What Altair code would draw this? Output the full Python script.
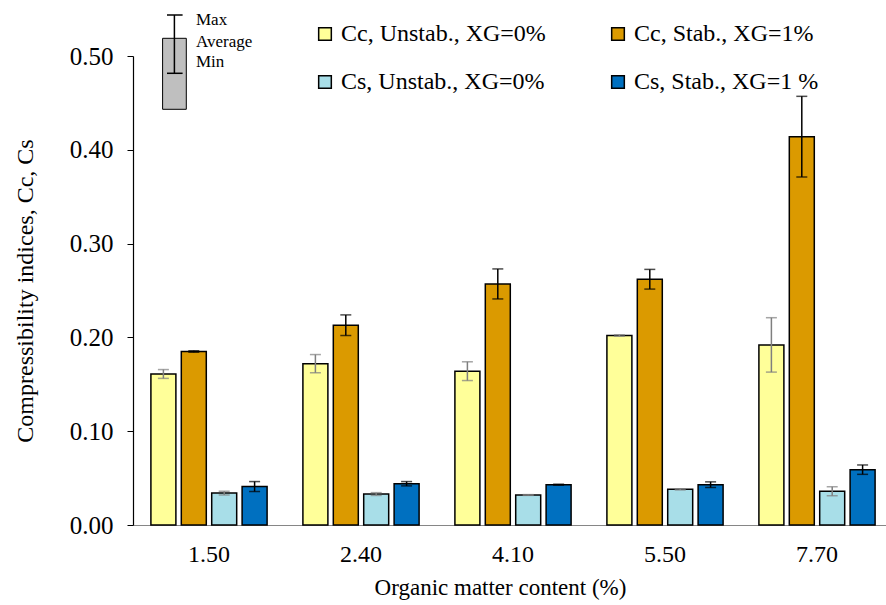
import altair as alt
import pandas as pd

# Organic matter content groups
organic = ["1.50", "2.40", "4.10", "5.50", "7.70"]

series = [
    "Cc, Unstab., XG=0%",
    "Cc, Stab., XG=1%",
    "Cs, Unstab., XG=0%",
    "Cs, Stab., XG=1 %",
]
colors = ["#FFFF99", "#DB9A00", "#A8DEE8", "#0070C0"]

# Legend fills column by column: Cc entries on the first row, Cs on the second
legend_order = [series[0], series[2], series[1], series[3]]
legend_colors = [colors[0], colors[2], colors[1], colors[3]]

# Average values and half-ranges (max - average) for each series
cc_unstab = [0.161, 0.172, 0.164, 0.202, 0.192]
cc_unstab_err = [0.0047, 0.0097, 0.0100, 0.0008, 0.0290]
cc_stab = [0.185, 0.213, 0.257, 0.262, 0.414]
cc_stab_err = [0.0008, 0.0110, 0.0160, 0.0105, 0.0430]
cs_unstab = [0.034, 0.033, 0.032, 0.038, 0.036]
cs_unstab_err = [0.0020, 0.0015, 0.0004, 0.0006, 0.0048]
cs_stab = [0.041, 0.044, 0.043, 0.043, 0.059]
cs_stab_err = [0.0053, 0.0023, 0.0005, 0.0030, 0.0050]

means = [cc_unstab, cc_stab, cs_unstab, cs_stab]
errs = [cc_unstab_err, cc_stab_err, cs_unstab_err, cs_stab_err]

rows = []
for s, m_list, e_list in zip(series, means, errs):
    for om, m, e in zip(organic, m_list, e_list):
        rows.append({"om": om, "series": s, "value": m,
                     "lo": m - e, "hi": m + e})
df = pd.DataFrame(rows)

FONT = "Liberation Serif"

x_enc = alt.X(
    "om:N", sort=organic,
    scale=alt.Scale(range=[0, 760], paddingInner=0.2, paddingOuter=0.1),
    axis=alt.Axis(title="Organic matter content (%)", labelAngle=0,
                  ticks=False, tickSize=0, domainColor="#868686",
                  domainWidth=1.2, labelPadding=17, titlePadding=10,
                  titleX=367,
                  labelFontSize=24, titleFontSize=23,
                  labelFont=FONT, titleFont=FONT, titleFontWeight="normal",
                  labelColor="black", titleColor="black"),
)
xoff = alt.XOffset("series:N", sort=series,
                   scale=alt.Scale(paddingInner=0.178, paddingOuter=0.089))
y_scale = alt.Scale(domain=[0, 0.5], nice=False, zero=True)

base = alt.Chart(df)

bars = base.mark_bar(stroke="black", strokeWidth=1.5).encode(
    x=x_enc,
    xOffset=xoff,
    y=alt.Y("value:Q", scale=y_scale,
            axis=alt.Axis(title="Compressibility indices, Cc, Cs",
                          values=[0, 0.1, 0.2, 0.3, 0.4, 0.5], format=".2f",
                          grid=False, tickSize=6, tickColor="black",
                          domainColor="black", domainWidth=1.2,
                          labelPadding=14, titlePadding=32,
                          labelFontSize=25, titleFontSize=24,
                          labelFont=FONT, titleFont=FONT,
                          titleFontWeight="normal",
                          labelColor="black", titleColor="black")),
    color=alt.Color("series:N",
                    scale=alt.Scale(domain=legend_order, range=legend_colors),
                    legend=alt.Legend(
                        title=None, orient="none", columns=2,
                        legendX=180, legendY=-34,
                        symbolType="square", symbolSize=160,
                        symbolStrokeColor="black", symbolStrokeWidth=1.5,
                        labelFontSize=24, labelFont=FONT, labelColor="black",
                        labelOffset=4, columnPadding=60, rowPadding=24,
                        padding=0, labelLimit=400)),
)

err_color = alt.condition(
    alt.FieldOneOfPredicate(field="series", oneOf=[series[1], series[3]]),
    alt.value("black"), alt.value("#7F7F7F"))

err_rule = base.mark_rule(strokeWidth=1.5).encode(
    x=alt.X("om:N", sort=organic), xOffset=xoff,
    y=alt.Y("lo:Q", scale=y_scale), y2="hi:Q",
    color=err_color,
)
cap_lo = base.mark_tick(thickness=1.5, size=11, orient="horizontal").encode(
    x=alt.X("om:N", sort=organic), xOffset=xoff,
    y=alt.Y("lo:Q", scale=y_scale), color=err_color,
)
cap_hi = base.mark_tick(thickness=1.5, size=11, orient="horizontal").encode(
    x=alt.X("om:N", sort=organic), xOffset=xoff,
    y=alt.Y("hi:Q", scale=y_scale), color=err_color,
)

# Key explaining the error bars (Max / Average / Min)
key_src = alt.Chart(pd.DataFrame({"k": [0]}))
key_box = key_src.mark_rect(fill="#BFBFBF", stroke="black", strokeWidth=1).encode(
    x=alt.value(29.6), x2=alt.value(53.3), y=alt.value(-17.7), y2=alt.value(53.3))
key_whisker = key_src.mark_rule(color="black", strokeWidth=1.5).encode(
    x=alt.value(41.4), y=alt.value(-41), y2=alt.value(17.3))
key_cap_top = key_src.mark_rule(color="black", strokeWidth=1.5).encode(
    x=alt.value(34), x2=alt.value(49.6), y=alt.value(-41))
key_cap_bot = key_src.mark_rule(color="black", strokeWidth=1.5).encode(
    x=alt.value(34), x2=alt.value(49.6), y=alt.value(17.3))
key_labels = alt.Chart(pd.DataFrame({
    "label": ["Max", "Average", "Min"],
    "ypos": [-36, -14.5, 5.5],
})).mark_text(align="left", baseline="middle", font=FONT, fontSize=17,
              color="black").encode(
    x=alt.value(63), y=alt.Y("ypos:Q", scale=None), text="label:N")

chart = alt.layer(
    bars, err_rule, cap_lo, cap_hi,
    key_box, key_whisker, key_cap_top, key_cap_bot, key_labels,
).properties(
    width=753, height=469,
    autosize=alt.AutoSizeParams(type="none"),
    padding={"left": 133, "top": 56, "right": 0, "bottom": 80},
    background="white",
).configure_view(
    stroke=None
)

chart.save("out.html", embed_options={"renderer": "svg", "actions": False})
